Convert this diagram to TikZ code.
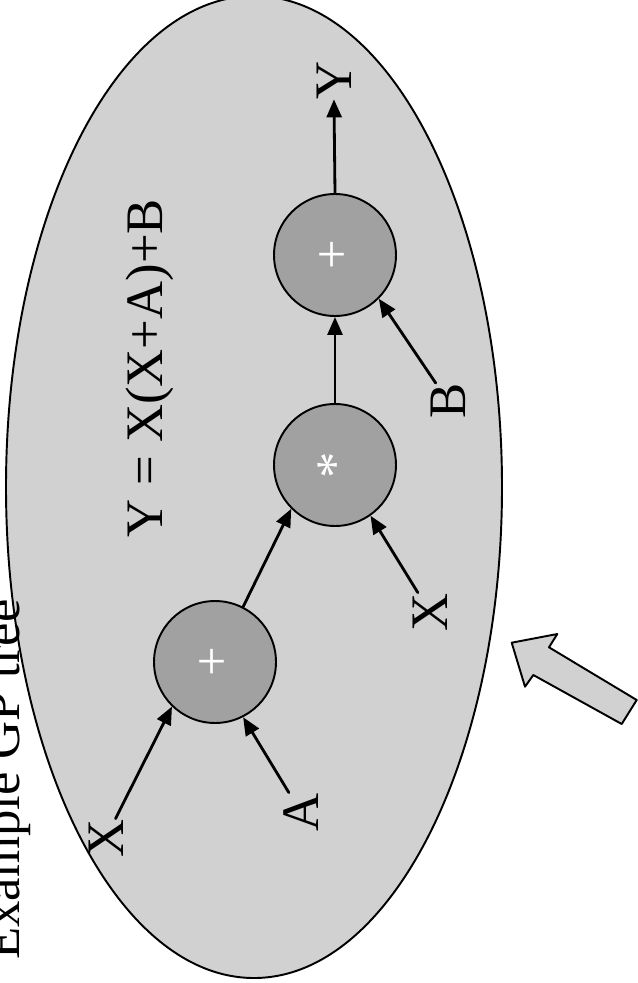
\documentclass[tikz,border=0pt]{standalone}
\usepackage{fontspec}
\setmainfont{Liberation Serif}
\usetikzlibrary{arrows.meta}
\definecolor{ellgray}{rgb}{0.82,0.82,0.82}
\definecolor{opgray}{rgb}{0.63,0.63,0.63}
\begin{document}
\begin{tikzpicture}[x=0.02cm,y=-0.02cm,line cap=round,line join=round,
    >={Triangle[length=0.36cm,width=0.3cm]},
    lbl/.style={rotate=90,font=\fontsize{30}{36}\selectfont,inner sep=0pt},
    opnode/.style={circle,draw,line width=1.1pt,fill=opgray,minimum size=2.44cm,
        inner sep=0pt,text=white,font=\fontsize{30}{36}\selectfont},
    edge/.style={->,line width=1.6pt}]
    \useasboundingbox (0,0) rectangle (638,983);
    \clip (0,0) rectangle (638,983);
    \draw [line width=1.1pt,fill=ellgray] (254,487) ellipse [x radius=248,y radius=491];
    \filldraw [line width=1.1pt,fill=ellgray] (511.7,642.7) -- (557.3,634) -- (549,647.3) -- (636.7,700)
        -- (621.7,724) -- (533.3,675) -- (525,686.7) -- cycle;
    \node[lbl,anchor=base west] (caption) at (19,960) {Example GP tree};
    \node[lbl,anchor=base] (eqn) at (162,368) {Y = X(X+A)+B};
    \node[opnode] (plusA) at (215,662) {\rotatebox{90}{+}};
    \node[opnode] (times) at (335,465) {\rotatebox{90}{*}};
    \node[opnode] (plusB) at (335,255) {\rotatebox{90}{+}};
    \node[lbl,anchor=base] (inX) at (123,838) {X};
    \node[lbl,anchor=base] (inA) at (318,812) {A};
    \node[lbl,anchor=base] (inXb) at (447,612) {X};
    \node[lbl,anchor=base] (inB) at (465,401) {B};
    \node[lbl,anchor=base] (outY) at (351,80) {Y};
    \draw [edge] (inX) -- (plusA.226);
    \draw [edge] (inA) -- (plusA.297);
    \draw [edge] (plusA.63) -- (times.225);
    \draw [edge] (inXb) -- (times.305);
    \draw [edge] (times.north) -- (plusB.south);
    \draw [edge] (inB) -- (plusB.315);
    \draw [edge] (plusB.north) -- (outY);
\end{tikzpicture}
\end{document}
